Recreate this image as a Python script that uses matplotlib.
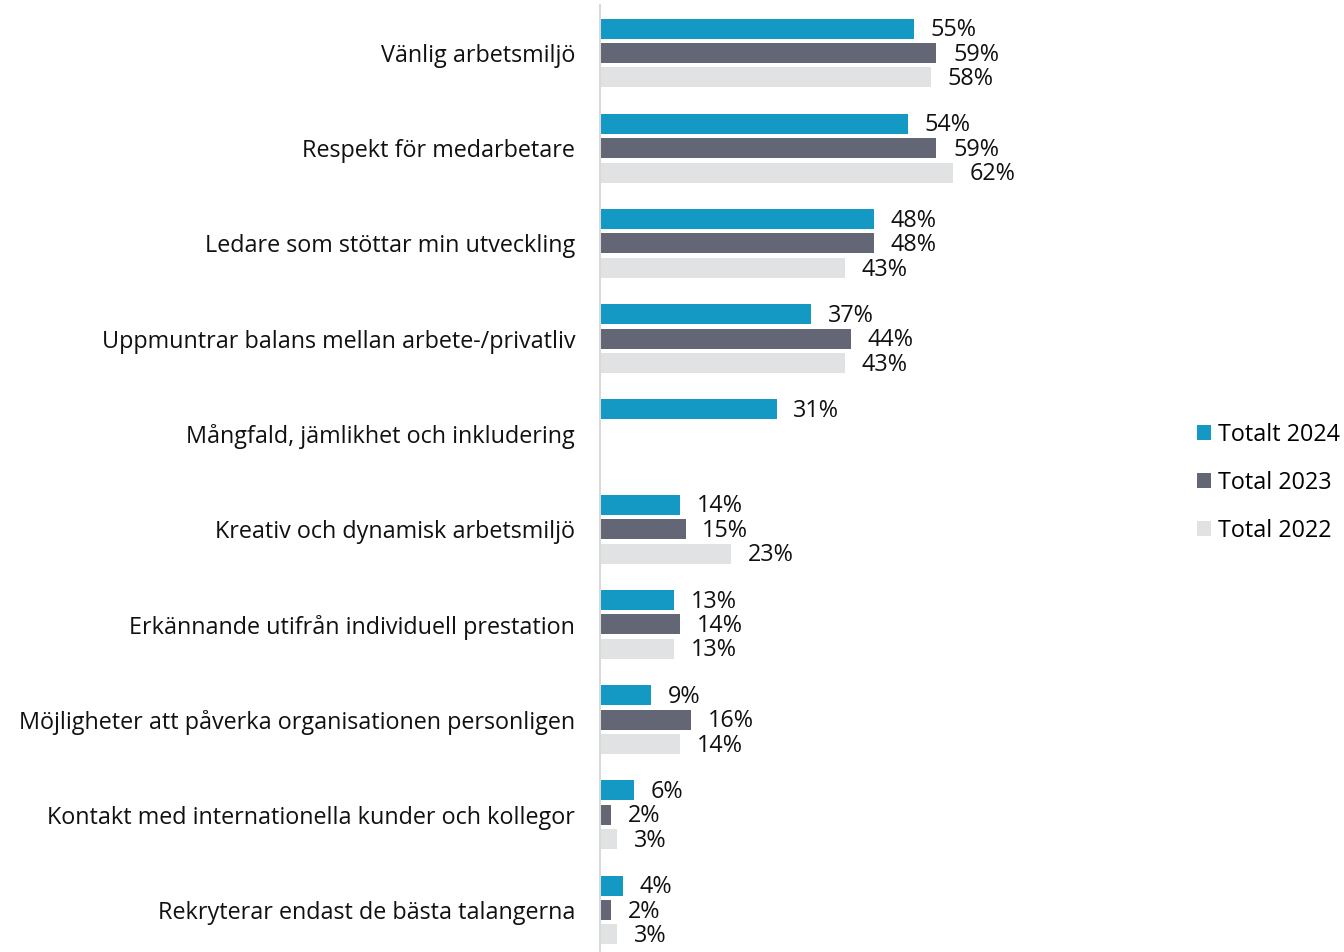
import numpy as np
import matplotlib.pyplot as plt

plt.rcParams['font.family'] = ['Open Sans', 'DejaVu Sans']

categories = [
    'Vänlig arbetsmiljö',
    'Respekt för medarbetare',
    'Ledare som stöttar min utveckling',
    'Uppmuntrar balans mellan arbete-/privatliv',
    'Mångfald, jämlikhet och inkludering',
    'Kreativ och dynamisk arbetsmiljö',
    'Erkännande utifrån individuell prestation',
    'Möjligheter att påverka organisationen personligen',
    'Kontakt med internationella kunder och kollegor',
    'Rekryterar endast de bästa talangerna',
]
totalt_2024 = [55, 54, 48, 37, 31, 14, 13, 9, 6, 4]
total_2023 = [59, 59, 48, 44, None, 15, 14, 16, 2, 2]
total_2022 = [58, 62, 43, 43, None, 23, 13, 14, 3, 3]

series = [
    ('Totalt 2024', totalt_2024, '#1499C4'),
    ('Total 2023', total_2023, '#636674'),
    ('Total 2022', total_2022, '#E1E2E4'),
]

fig = plt.figure(figsize=(13.44, 9.52), dpi=100)
ax = fig.add_axes([600 / 1344, -5.6 / 952, 570 / 1344, (952 + 5.6 - 5.4) / 952])

fs = 16.8
y = np.arange(len(categories))
pitch = 0.257
height = 0.21
handles = []
for i, (name, vals, color) in enumerate(series):
    pos = y + (i - 1) * pitch
    v = np.array([np.nan if x is None else x for x in vals], dtype=float)
    bars = ax.barh(pos, np.nan_to_num(v), height=height, color=color, label=name)
    handles.append(bars)
    for p, val in zip(pos, vals):
        if val is None:
            continue
        ax.annotate(f'{val}%', (val, p), xytext=(12, -1.2), textcoords='offset points',
                    va='center', ha='left', fontsize=fs, color='#111111')

ax.set_xlim(0, 100)
ax.set_ylim(len(categories) - 0.5, -0.5)
ax.set_yticks(y)
ax.set_yticklabels(categories, fontsize=fs, color='#111111')
ax.tick_params(axis='y', length=0, pad=18)
ax.set_xticks([])
for s in ['top', 'right', 'bottom']:
    ax.spines[s].set_visible(False)
ax.spines['left'].set_color('#D9D9D9')
ax.spines['left'].set_linewidth(1.5)

fig.legend(handles=handles, loc='center left', bbox_to_anchor=(1176 / 1344, 1 - 483 / 952),
           frameon=False, fontsize=fs, handlelength=0.62, handleheight=0.62,
           handletextpad=0.3, labelspacing=1.03)

fig.savefig('out.png', dpi=100)
